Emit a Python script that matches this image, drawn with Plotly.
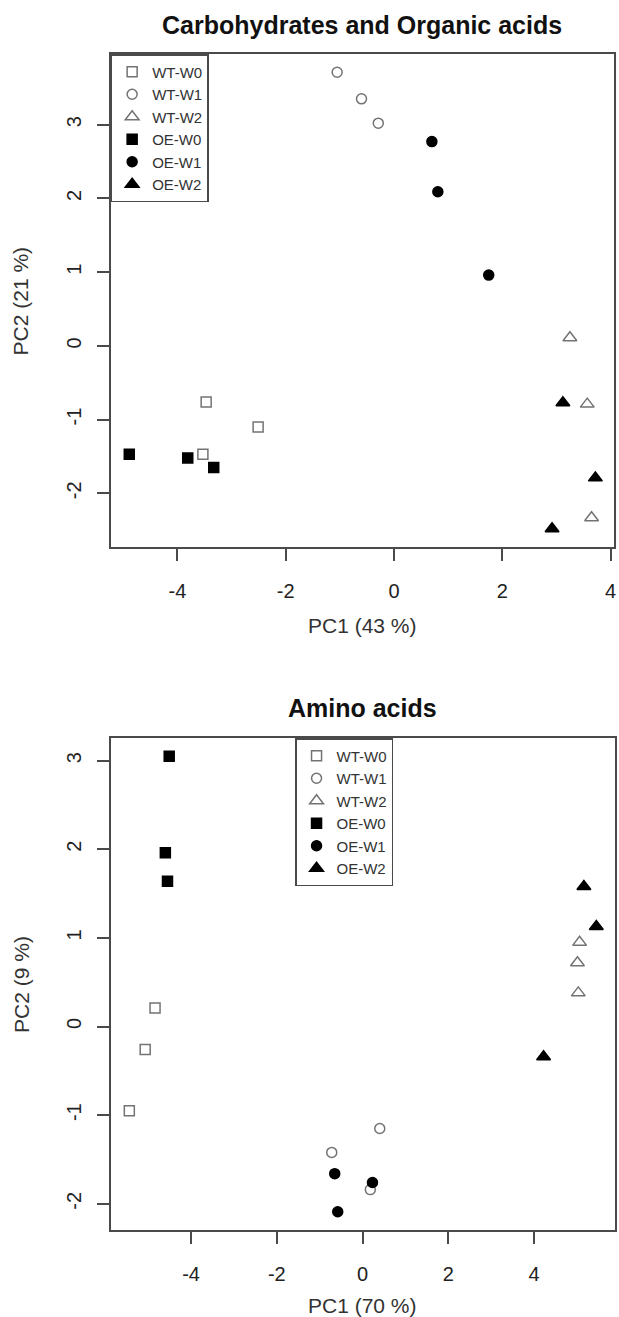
import plotly.graph_objects as go

# ---------------- data: Carbohydrates and Organic acids ----------------
groups = ["WT-W0", "WT-W1", "WT-W2", "OE-W0", "OE-W1", "OE-W2"]

carb_x = {
    "WT-W0": [-3.47, -2.51, -3.53],
    "WT-W1": [-1.05, -0.60, -0.29],
    "WT-W2": [3.25, 3.57, 3.65],
    "OE-W0": [-4.89, -3.81, -3.33],
    "OE-W1": [0.70, 0.81, 1.75],
    "OE-W2": [3.12, 3.72, 2.92],
}
carb_y = {
    "WT-W0": [-0.76, -1.10, -1.47],
    "WT-W1": [3.71, 3.35, 3.02],
    "WT-W2": [0.11, -0.79, -2.33],
    "OE-W0": [-1.47, -1.52, -1.65],
    "OE-W1": [2.77, 2.09, 0.96],
    "OE-W2": [-0.77, -1.79, -2.48],
}

# ---------------- data: Amino acids ----------------
amino_x = {
    "WT-W0": [-4.84, -5.07, -5.44],
    "WT-W1": [-0.72, 0.40, 0.18],
    "WT-W2": [5.06, 5.01, 5.03],
    "OE-W0": [-4.51, -4.60, -4.55],
    "OE-W1": [-0.65, 0.23, -0.58],
    "OE-W2": [4.22, 5.16, 5.45],
}
amino_y = {
    "WT-W0": [0.21, -0.26, -0.95],
    "WT-W1": [-1.42, -1.15, -1.84],
    "WT-W2": [0.95, 0.72, 0.38],
    "OE-W0": [3.05, 1.96, 1.64],
    "OE-W1": [-1.66, -1.76, -2.09],
    "OE-W2": [-0.34, 1.58, 1.13],
}

x_ticks = [-4, -2, 0, 2, 4]
x_tick_labels = ["-4", "-2", "0", "2", "4"]
y_ticks = [-2, -1, 0, 1, 2, 3]
y_tick_labels = ["-2", "-1", "0", "1", "2", "3"]
titles = ["Carbohydrates and Organic acids", "Amino acids"]
x_titles = ["PC1 (43 %)", "PC1 (70 %)"]
y_titles = ["PC2 (21 %)", "PC2 (9 %)"]

# ---------------- styling ----------------
W, H = 619, 1317
GRAY = "#737373"
LINE = "#4a4a4a"
FONT = "Liberation Sans, Arial, sans-serif"

symbols = {
    "WT-W0": ("square-open", 10, GRAY),
    "WT-W1": ("circle-open", 10, GRAY),
    "WT-W2": ("triangle-up-open", 12, GRAY),
    "OE-W0": ("square", 10, "black"),
    "OE-W1": ("circle", 10, "black"),
    "OE-W2": ("triangle-up", 12, "black"),
}


def r_range(vals):
    lo, hi = min(vals), max(vals)
    pad = (hi - lo) * 0.04
    return [lo - pad, hi + pad]


fig = go.Figure()

panels = [
    (carb_x, carb_y, "x", "y", "legend"),
    (amino_x, amino_y, "x2", "y2", "legend2"),
]
for xs, ys, xa, ya, lg in panels:
    for g in groups:
        sym, size, col = symbols[g]
        fig.add_trace(go.Scatter(
            x=xs[g], y=ys[g], mode="markers", name=g,
            xaxis=xa, yaxis=ya, legend=lg,
            marker=dict(symbol=sym, size=size, color=col,
                        line=dict(color=col, width=1.5)),
        ))


def px_x(p):
    return p / W


def px_y(p):
    return 1 - p / H


axis_common = dict(
    showline=True, linecolor=LINE, linewidth=1.5, mirror=True,
    ticks="outside", ticklen=12, tickwidth=1.5, tickcolor=LINE,
    showgrid=False, zeroline=False,
    tickfont=dict(family=FONT, size=20, color="#222222"),
)

all_cx = sum(carb_x.values(), [])
all_cy = sum(carb_y.values(), [])
all_ax = sum(amino_x.values(), [])
all_ay = sum(amino_y.values(), [])

# plot boxes in pixels: (left, right, top, bottom)
box1 = (111, 616, 54, 547)
box2 = (111, 617, 738, 1230)

legend_common = dict(
    xanchor="left", yanchor="top",
    bgcolor="white", bordercolor=LINE, borderwidth=1.5,
    font=dict(family=FONT, size=15, color="#333333"),
    tracegroupgap=0, itemclick=False,
)

fig.update_layout(
    width=W, height=H,
    margin=dict(l=0, r=0, t=0, b=0),
    paper_bgcolor="white", plot_bgcolor="white",
    font=dict(family=FONT, color="#222222"),
    showlegend=True,
    xaxis=dict(domain=[px_x(box1[0]), px_x(box1[1])], anchor="y",
               range=r_range(all_cx), tickvals=x_ticks, ticktext=x_tick_labels,
               ticklabelstandoff=13, **axis_common),
    yaxis=dict(domain=[px_y(box1[3]), px_y(box1[2])], anchor="x",
               range=r_range(all_cy), tickvals=y_ticks, ticktext=y_tick_labels,
               tickangle=-90, ticklabelstandoff=8, **axis_common),
    xaxis2=dict(domain=[px_x(box2[0]), px_x(box2[1])], anchor="y2",
                range=r_range(all_ax), tickvals=x_ticks, ticktext=x_tick_labels,
                ticklabelstandoff=13, **axis_common),
    yaxis2=dict(domain=[px_y(box2[3]), px_y(box2[2])], anchor="x2",
                range=r_range(all_ay), tickvals=y_ticks, ticktext=y_tick_labels,
                tickangle=-90, ticklabelstandoff=8, **axis_common),
    legend=dict(x=px_x(111), y=px_y(54), **legend_common),
    legend2=dict(x=px_x(296), y=px_y(738), **legend_common),
)

ann = []
for i, (box, t, xt, yt) in enumerate(zip([box1, box2], titles, x_titles, y_titles)):
    cx = (box[0] + box[1]) / 2
    cy = (box[2] + box[3]) / 2
    title_y = 25 if i == 0 else 708
    xt_y = 625 if i == 0 else 1305
    ann.append(dict(text=f"<b>{t}</b>", x=px_x(cx), y=px_y(title_y),
                    xref="paper", yref="paper", xanchor="center", yanchor="middle",
                    showarrow=False, font=dict(family=FONT, size=25, color="#111111")))
    ann.append(dict(text=xt, x=px_x(cx), y=px_y(xt_y),
                    xref="paper", yref="paper", xanchor="center", yanchor="middle",
                    showarrow=False, font=dict(family=FONT, size=21, color="#333333")))
    ann.append(dict(text=yt, x=px_x(21), y=px_y(cy), textangle=-90,
                    xref="paper", yref="paper", xanchor="center", yanchor="middle",
                    showarrow=False, font=dict(family=FONT, size=21, color="#333333")))
fig.update_layout(annotations=ann)

fig.write_html("out.html")
